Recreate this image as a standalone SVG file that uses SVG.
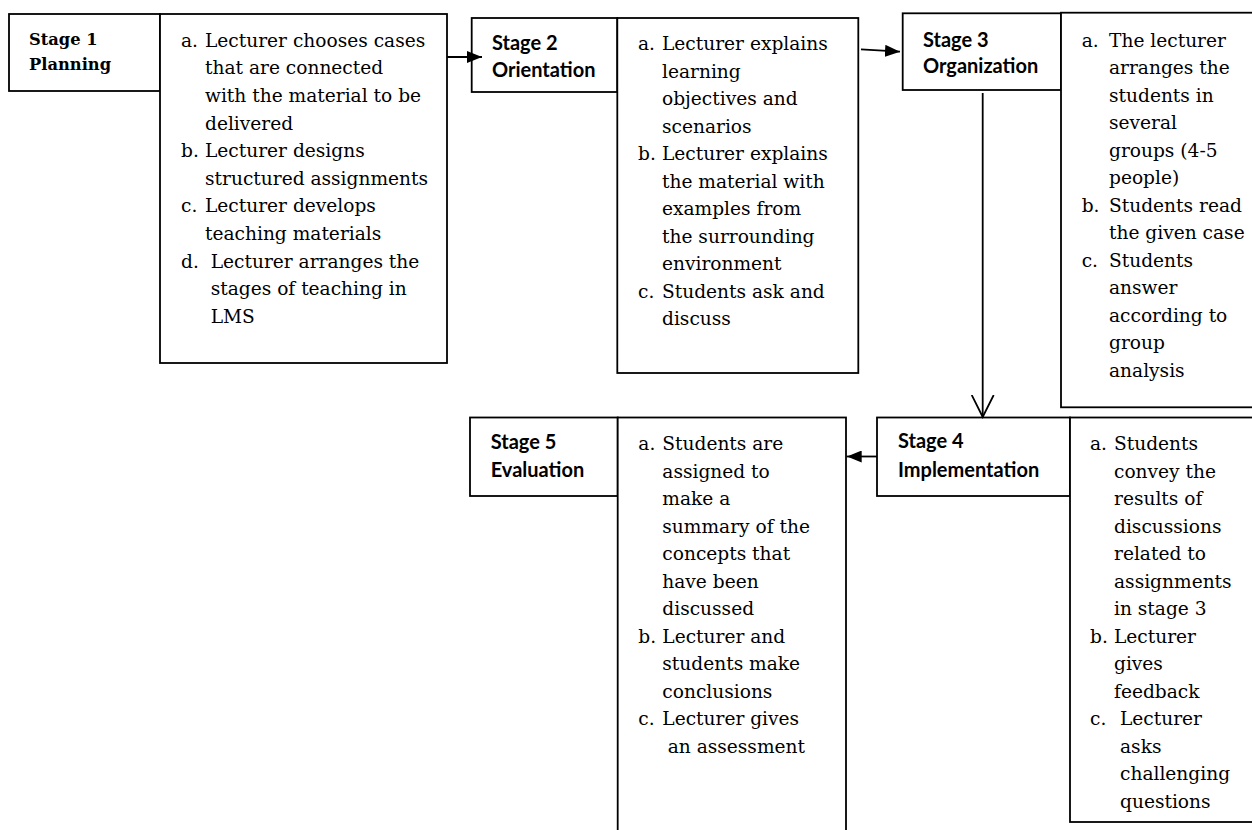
<svg xmlns="http://www.w3.org/2000/svg" width="1252" height="830" viewBox="0 0 1252 830">
<defs>
<style>
.box{fill:#fff;stroke:#000;stroke-width:1.8}
.body{font-family:"DejaVu Serif",serif;font-size:18.6px;fill:#000}
.s1{font-family:"DejaVu Serif",serif;font-size:16.3px;font-weight:bold;fill:#000}
.lab{font-family:Lato,"Open Sans","Liberation Sans",sans-serif;font-size:20px;font-weight:bold;fill:#000}
.con{fill:none;stroke:#000;stroke-width:1.8}
</style>
<marker id="tri" viewBox="0 0 15 12" refX="15" refY="6" markerWidth="15" markerHeight="12" markerUnits="userSpaceOnUse" orient="auto"><path d="M0,0 L15,6 L0,12 Z" fill="#000"/></marker>
<marker id="vee" viewBox="0 0 12 12" refX="11" refY="6" markerWidth="24" markerHeight="24" markerUnits="userSpaceOnUse" orient="auto"><path d="M0,0.5 L11,6 L0,11.5" fill="none" stroke="#000" stroke-width="0.9"/></marker>
</defs>
<rect width="1252" height="830" fill="#fff"/>

<g id="stage1">
<rect class="box" x="9" y="14" width="151" height="77"/>
<text class="s1" x="29" y="45">Stage 1</text>
<text class="s1" x="29" y="70">Planning</text>
</g>
<g id="content1">
<rect class="box" x="160" y="14" width="287" height="349"/>
<text class="body" x="181" y="46.7">a.</text><text class="body" x="205" y="46.7">Lecturer chooses cases</text>
<text class="body" x="205" y="74.3">that are connected</text>
<text class="body" x="205" y="101.9">with the material to be</text>
<text class="body" x="205" y="129.5">delivered</text>
<text class="body" x="181" y="157.1">b.</text><text class="body" x="205" y="157.1">Lecturer designs</text>
<text class="body" x="205" y="184.7">structured assignments</text>
<text class="body" x="181" y="212.3">c.</text><text class="body" x="205" y="212.3">Lecturer develops</text>
<text class="body" x="205" y="239.9">teaching materials</text>
<text class="body" x="181" y="267.5">d.</text><text class="body" x="210.7" y="267.5">Lecturer arranges the</text>
<text class="body" x="210.7" y="295.1">stages of teaching in</text>
<text class="body" x="210.7" y="322.7">LMS</text>
</g>

<g id="stage2">
<rect class="box" x="471.7" y="18" width="145.6" height="74"/>
<text class="lab" x="492" y="50">Stage 2</text>
<text class="lab" x="492" y="77.3">Orientation</text>
</g>
<g id="content2">
<rect class="box" x="617.3" y="18" width="241" height="355"/>
<text class="body" x="638" y="50">a.</text><text class="body" x="662" y="50">Lecturer explains</text>
<text class="body" x="662" y="77.5">learning</text>
<text class="body" x="662" y="105">objectives and</text>
<text class="body" x="662" y="132.5">scenarios</text>
<text class="body" x="638" y="160">b.</text><text class="body" x="662" y="160">Lecturer explains</text>
<text class="body" x="662" y="187.5">the material with</text>
<text class="body" x="662" y="215">examples from</text>
<text class="body" x="662" y="242.5">the surrounding</text>
<text class="body" x="662" y="270">environment</text>
<text class="body" x="638" y="297.5">c.</text><text class="body" x="662" y="297.5">Students ask and</text>
<text class="body" x="662" y="325">discuss</text>
</g>

<g id="stage3">
<rect class="box" x="902.7" y="13.3" width="158.3" height="76.7"/>
<text class="lab" x="923" y="46.7">Stage 3</text>
<text class="lab" x="923" y="72.7">Organization</text>
</g>
<g id="content3">
<rect class="box" x="1061" y="12.7" width="200" height="394.6"/>
<text class="body" x="1081.7" y="46.7">a.</text><text class="body" x="1109" y="46.7">The lecturer</text>
<text class="body" x="1109" y="74.2">arranges the</text>
<text class="body" x="1109" y="101.7">students in</text>
<text class="body" x="1109" y="129.2">several</text>
<text class="body" x="1109" y="156.7">groups (4-5</text>
<text class="body" x="1109" y="184.2">people)</text>
<text class="body" x="1081.7" y="211.7">b.</text><text class="body" x="1109" y="211.7">Students read</text>
<text class="body" x="1109" y="239.2">the given case</text>
<text class="body" x="1081.7" y="266.7">c.</text><text class="body" x="1109" y="266.7">Students</text>
<text class="body" x="1109" y="294.2">answer</text>
<text class="body" x="1109" y="321.7">according to</text>
<text class="body" x="1109" y="349.2">group</text>
<text class="body" x="1109" y="376.7">analysis</text>
</g>

<g id="stage4">
<rect class="box" x="877" y="417.5" width="193" height="78.5"/>
<text class="lab" x="898" y="448.3">Stage 4</text>
<text class="lab" x="898" y="476.7">Implementation</text>
</g>
<g id="content4">
<rect class="box" x="1070" y="417.5" width="200" height="404.5"/>
<text class="body" x="1090" y="450">a.</text><text class="body" x="1114" y="450">Students</text>
<text class="body" x="1114" y="477.5">convey the</text>
<text class="body" x="1114" y="505">results of</text>
<text class="body" x="1114" y="532.5">discussions</text>
<text class="body" x="1114" y="560">related to</text>
<text class="body" x="1114" y="587.5">assignments</text>
<text class="body" x="1114" y="615">in stage 3</text>
<text class="body" x="1090" y="642.5">b.</text><text class="body" x="1114" y="642.5">Lecturer</text>
<text class="body" x="1114" y="670">gives</text>
<text class="body" x="1114" y="697.5">feedback</text>
<text class="body" x="1090" y="725">c.</text><text class="body" x="1120" y="725">Lecturer</text>
<text class="body" x="1120" y="752.5">asks</text>
<text class="body" x="1120" y="780">challenging</text>
<text class="body" x="1120" y="807.5">questions</text>
</g>

<g id="stage5">
<rect class="box" x="470" y="417.5" width="147.7" height="78.5"/>
<text class="lab" x="490.7" y="449.3">Stage 5</text>
<text class="lab" x="490.7" y="476.7">Evaluation</text>
</g>
<g id="content5">
<rect class="box" x="617.7" y="417.5" width="228.3" height="430"/>
<text class="body" x="638.3" y="450">a.</text><text class="body" x="662.3" y="450">Students are</text>
<text class="body" x="662.3" y="477.5">assigned to</text>
<text class="body" x="662.3" y="505">make a</text>
<text class="body" x="662.3" y="532.5">summary of the</text>
<text class="body" x="662.3" y="560">concepts that</text>
<text class="body" x="662.3" y="587.5">have been</text>
<text class="body" x="662.3" y="615">discussed</text>
<text class="body" x="638.3" y="642.5">b.</text><text class="body" x="662.3" y="642.5">Lecturer and</text>
<text class="body" x="662.3" y="670">students make</text>
<text class="body" x="662.3" y="697.5">conclusions</text>
<text class="body" x="638.3" y="725">c.</text><text class="body" x="662.3" y="725">Lecturer gives</text>
<text class="body" x="667.7" y="752.5">an assessment</text>
</g>

<g id="connectors">
<line class="con" x1="447" y1="57" x2="482" y2="57" marker-end="url(#tri)"/>
<line class="con" x1="861" y1="49.3" x2="900" y2="51.7" marker-end="url(#tri)"/>
<line class="con" x1="982.7" y1="93" x2="982.7" y2="417" marker-end="url(#vee)"/>
<line class="con" x1="877" y1="456.5" x2="846.7" y2="456.5" marker-end="url(#tri)"/>
</g>
</svg>
